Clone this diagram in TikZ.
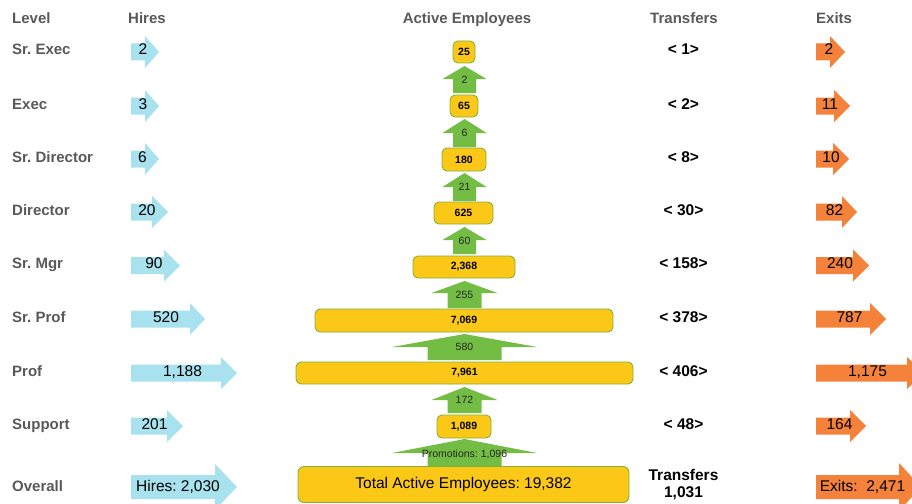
\documentclass[tikz,border=0pt]{standalone}
\usepackage{fontspec}
\setmainfont{Liberation Sans}
\frenchspacing
\definecolor{labelgray}{HTML}{595959}
\definecolor{hireblue}{HTML}{A8E2EF}
\definecolor{exitorange}{HTML}{F4823A}
\definecolor{empyellow}{HTML}{FCC817}
\definecolor{empborder}{HTML}{7DB33A}
\definecolor{promogreen}{HTML}{74BD45}

% right-pointing block arrow: style, y centre, x start, body end, tip, half body, half head
\newcommand{\blockright}[7]{%
  \fill[#1] (#3,#2-#6) -- (#4,#2-#6) -- (#4,#2-#7) -- (#5,#2) -- (#4,#2+#7)
    -- (#4,#2+#6) -- (#3,#2+#6) -- cycle;}
% up-pointing block arrow: style, x centre, bottom, head base, tip, half body, half head
\newcommand{\blockup}[7]{%
  \fill[#1] (#2-#6,#3) -- (#2-#6,#4) -- (#2-#7,#4) -- (#2,#5) -- (#2+#7,#4)
    -- (#2+#6,#4) -- (#2+#6,#3) -- cycle;}

\begin{document}
\begin{tikzpicture}[x=1pt,y=-1pt,
  hdr/.style={font=\fontsize{15}{18}\selectfont\bfseries, text=labelgray, inner sep=0pt},
  lvl/.style={hdr, anchor=base west},
  num/.style={font=\fontsize{15.5}{18}\selectfont, text=black, inner sep=0pt, anchor=base},
  xfer/.style={font=\fontsize{15.5}{18}\selectfont\bfseries, text=black, inner sep=0pt, anchor=base},
  empbox/.style={draw=empborder, line width=0.9pt, fill=empyellow, rounded corners=5pt,
    inner sep=0pt, font=\fontsize{10.5}{12}\selectfont\bfseries, text=black},
  promo/.style={font=\fontsize{10.5}{12}\selectfont, text=black!85, inner sep=0pt, anchor=base},
  hirefill/.style={fill=hireblue},
  exitfill/.style={fill=exitorange},
  upfill/.style={fill=promogreen}]
\useasboundingbox (0,0) rectangle (912,503);
\begin{scope}
\clip (0,0) rectangle (912,503);

% column headings
\node[lvl] (hLevel) at (12,24) {Level};
\node[lvl] (hHires) at (128,24) {Hires};
\node[hdr, anchor=base] (hActive) at (467,24) {Active Employees};
\node[hdr, anchor=base] (hTransfers) at (684,24) {Transfers};
\node[lvl] (hExits) at (816,24) {Exits};

% level names
\node[lvl] (lSrExec) at (12,55) {Sr. Exec};
\node[lvl] (lExec) at (12,109) {Exec};
\node[lvl] (lSrDir) at (12,162) {Sr. Director};
\node[lvl] (lDir) at (12,215) {Director};
\node[lvl] (lSrMgr) at (12,268.5) {Sr. Mgr};
\node[lvl] (lSrProf) at (12,322) {Sr. Prof};
\node[lvl] (lProf) at (12,376) {Prof};
\node[lvl] (lSupport) at (12,429) {Support};
\node[lvl] (lOverall) at (12,491) {Overall};

% hires arrows
\blockright{hirefill}{52}{131}{145}{159}{8.5}{16}
\blockright{hirefill}{106}{131}{145}{159}{8.5}{16}
\blockright{hirefill}{159}{131}{145}{159}{8.5}{16}
\blockright{hirefill}{212}{131}{152}{168}{8.5}{16}
\blockright{hirefill}{265.5}{131}{164}{180}{8.5}{16}
\blockright{hirefill}{319}{131}{190}{205}{8.5}{16}
\blockright{hirefill}{373}{131}{221}{237}{8.5}{16}
\blockright{hirefill}{426}{131}{167}{183}{8.5}{16}
\blockright{hirefill}{487}{131}{215}{237}{12}{23}
\node[num] (hi1) at (143,55) {2};
\node[num] (hi2) at (143,109) {3};
\node[num] (hi3) at (142.5,162) {6};
\node[num] (hi4) at (147,215) {20};
\node[num] (hi5) at (154,268.5) {90};
\node[num] (hi6) at (166,322) {520};
\node[num] (hi7) at (182.5,376) {1,188};
\node[num] (hi8) at (154.5,429) {201};
\node[num] (hi9) at (178,491) {Hires: 2,030};

% exits arrows
\blockright{exitfill}{52}{816}{830}{845}{8.5}{16}
\blockright{exitfill}{106}{816}{834}{850}{8.5}{16}
\blockright{exitfill}{159}{816}{833}{849}{8.5}{16}
\blockright{exitfill}{212}{816}{842}{857}{8.5}{16}
\blockright{exitfill}{265.5}{816}{853}{869}{8.5}{16}
\blockright{exitfill}{319}{816}{870}{886}{8.5}{16}
\blockright{exitfill}{373}{816}{907}{923}{8.5}{16}
\blockright{exitfill}{426}{816}{850}{866}{8.5}{16}
\blockright{exitfill}{487}{816}{899}{921}{12}{24}
\node[num] (ex1) at (829,55) {2};
\node[num] (ex2) at (830,109) {11};
\node[num] (ex3) at (831,162) {10};
\node[num] (ex4) at (834.5,215) {82};
\node[num] (ex5) at (840,268.5) {240};
\node[num] (ex6) at (849.5,322) {787};
\node[num] (ex7) at (867.5,376) {1,175};
\node[num] (ex8) at (839.5,429) {164};
\node[num] (ex9) at (862.5,491) {Exits:\ \ 2,471};

% transfers
\node[xfer] (tr1) at (683.5,55) {< 1>};
\node[xfer] (tr2) at (683.5,109) {< 2>};
\node[xfer] (tr3) at (683.5,162) {< 8>};
\node[xfer] (tr4) at (683.5,215) {< 30>};
\node[xfer] (tr5) at (683.5,268.5) {< 158>};
\node[xfer] (tr6) at (683.5,322) {< 378>};
\node[xfer] (tr7) at (683.5,376) {< 406>};
\node[xfer] (tr8) at (683.5,429) {< 48>};
\node[xfer] (tr9a) at (683.5,480) {Transfers};
\node[xfer] (tr9b) at (683.5,497) {1,031};

% promotion arrows between levels
\blockup{upfill}{464.5}{93}{79}{66}{11.5}{22}
\blockup{upfill}{464.5}{147}{133}{119}{11.5}{22}
\blockup{upfill}{464.5}{201}{187}{173}{11.5}{22}
\blockup{upfill}{464.5}{254}{240}{227}{11.5}{22}
\blockup{upfill}{464.5}{308}{293}{281}{17}{33}
\blockup{upfill}{464.5}{360}{347}{334}{37}{72.5}
\blockup{upfill}{464.5}{413}{400}{387}{17}{33}
\blockup{upfill}{464.5}{467}{453}{439}{37}{72.5}
\node[promo] (pr1) at (464.5,83.3) {2};
\node[promo] (pr2) at (464.5,136.8) {6};
\node[promo] (pr3) at (464.5,190.8) {21};
\node[promo] (pr4) at (464.5,244.3) {60};
\node[promo] (pr5) at (464.5,298.3) {255};
\node[promo] (pr6) at (464.5,350.8) {580};
\node[promo] (pr7) at (464.5,403.8) {172};
\node[promo] (pr8) at (464.5,457) {Promotions: 1,096};

% active employee boxes
\node[empbox, minimum width=22pt, minimum height=22pt] (e1) at (464,52) {25};
\node[empbox, minimum width=28pt, minimum height=22pt] (e2) at (464,106) {65};
\node[empbox, minimum width=44pt, minimum height=23pt] (e3) at (464,159.5) {180};
\node[empbox, minimum width=59pt, minimum height=22pt] (e4) at (463.5,213) {625};
\node[empbox, minimum width=102pt, minimum height=22pt] (e5) at (464,267) {2,368};
\node[empbox, minimum width=298pt, minimum height=23pt] (e6) at (464,320.5) {7,069};
\node[empbox, minimum width=337pt, minimum height=22pt] (e7) at (464.5,373) {7,961};
\node[empbox, minimum width=54pt, minimum height=23pt] (e8) at (464,426.5) {1,089};
\node[empbox, minimum width=331pt, minimum height=36pt, rounded corners=6pt,
  font=\fontsize{15.5}{18}\selectfont] (e9) at (463.5,484.5) {Total Active Employees: 19,382};
\end{scope}
\end{tikzpicture}
\end{document}
